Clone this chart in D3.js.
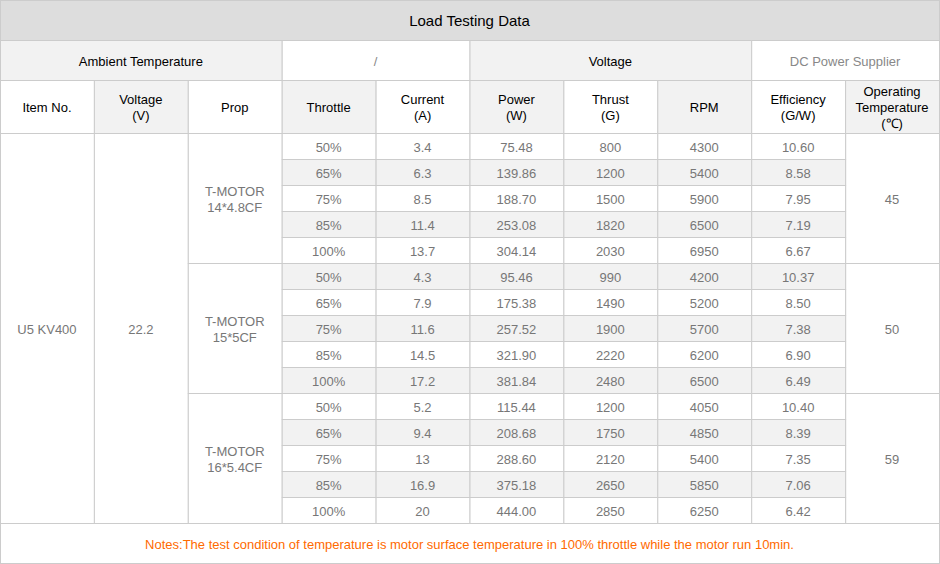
<!DOCTYPE html><html><head><meta charset="utf-8"><script src="https://cdn.jsdelivr.net/npm/d3@7"></script>
<style>body{margin:0;background:#fff}</style></head><body><svg id="c" width="940" height="564"></svg>
<script>
const title = "Load Testing Data";
const headers = ["Item No.","Voltage\n(V)","Prop","Throttle","Current\n(A)","Power\n(W)","Thrust\n(G)","RPM","Efficiency\n(G/W)","Operating\nTemperature\n(℃)"];
const item = "U5 KV400";
const voltage = "22.2";
const props = ["T-MOTOR\n14*4.8CF","T-MOTOR\n15*5CF","T-MOTOR\n16*5.4CF"];
const temps = ["45","50","59"];
const throttle = ["50%","65%","75%","85%","100%"];
const current = [3.4,6.3,8.5,11.4,13.7, 4.3,7.9,11.6,14.5,17.2, 5.2,9.4,13,16.9,20];
const power = ["75.48","139.86","188.70","253.08","304.14","95.46","175.38","257.52","321.90","381.84","115.44","208.68","288.60","375.18","444.00"];
const thrust = [800,1200,1500,1820,2030, 990,1490,1900,2220,2480, 1200,1750,2120,2650,2850];
const rpm = [4300,5400,5900,6500,6950, 4200,5200,5700,6200,6500, 4050,4850,5400,5850,6250];
const eff = ["10.60","8.58","7.95","7.19","6.67","10.37","8.50","7.38","6.90","6.49","10.40","8.39","7.35","7.06","6.42"];
const note = "Notes:The test condition of temperature is motor surface temperature in 100% throttle while the motor run 10min.";

const svg = d3.select("#c");
const x = d3.scaleLinear().domain([0,10]).range([0,939]);
const y = d3.scaleLinear().domain([0,15]).range([133,523]);
const F = "Liberation Sans, Arial, sans-serif";
const cells = [];
function cell(c0,c1,y0,y1,text,fill,color){cells.push({c0,c1,y0,y1,text,fill,color});}
cell(0,10,0,40,title,"#dddddd","#000");
cell(0,3,40,80,"Ambient Temperature","#f2f2f2","#000");
cell(3,5,40,80,"/","#fff","#888");
cell(5,8,40,80,"Voltage","#f2f2f2","#000");
cell(8,10,40,80,"DC Power Supplier","#fff","#888");
headers.forEach((h,i)=>cell(i,i+1,80,133,h,i%2?"#f2f2f2":"#fff","#000"));
const g="#777";
cell(0,1,y(0),y(15),item,"#fff",g);
cell(1,2,y(0),y(15),voltage,"#fff",g);
props.forEach((p,k)=>{cell(2,3,y(k*5),y(k*5+5),p,"#fff",g);cell(9,10,y(k*5),y(k*5+5),temps[k],"#fff",g);});
for(let r=0;r<15;r++){
  const vals=[throttle[r%5],current[r],power[r],thrust[r],rpm[r],eff[r]];
  vals.forEach((v,j)=>cell(3+j,4+j,y(r),y(r+1),String(v),r%2?"#f2f2f2":"#fff",g));
}
cell(0,10,523,563,note,"#fff","#ff6a00");
const gs=svg.selectAll("g").data(cells).join("g");
gs.append("rect").attr("x",d=>x(d.c0)+0.5).attr("y",d=>d.y0+0.5).attr("width",d=>x(d.c1)-x(d.c0)).attr("height",d=>d.y1-d.y0)
 .attr("fill",d=>d.fill).attr("stroke","#cccccc");
gs.each(function(d){
  const lines=d.text.split("\n"), lh=16, cy=(d.y0+d.y1)/2+1-(lines.length-1)*lh/2;
  const t=d3.select(this).append("text").attr("font-family",F).attr("font-size",d.y0===0?15:13).attr("fill",d.color).attr("text-anchor","middle");
  lines.forEach((l,i)=>t.append("tspan").attr("x",(x(d.c0)+x(d.c1))/2).attr("y",cy+i*lh).attr("dy","0.35em").text(l));
});
</script></body></html>
